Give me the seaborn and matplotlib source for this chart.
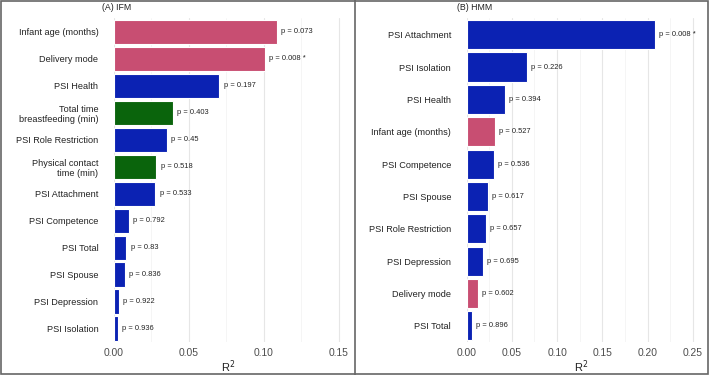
import matplotlib
matplotlib.use("Agg")
import matplotlib.pyplot as plt
import seaborn as sns
import pandas as pd
from matplotlib.patches import Rectangle
from matplotlib.lines import Line2D
from matplotlib.ticker import MultipleLocator

# =========================
# DATA
# =========================
ifm_labels = ["Infant age (months)", "Delivery mode", "PSI Health",
              "Total time\nbreastfeeding (min)", "PSI Role Restriction",
              "Physical contact\ntime (min)", "PSI Attachment", "PSI Competence",
              "PSI Total", "PSI Spouse", "PSI Depression", "PSI Isolation"]
ifm_r2 = [0.109, 0.101, 0.0705, 0.0395, 0.0355, 0.0285,
          0.0278, 0.0102, 0.0085, 0.0075, 0.0033, 0.0027]
ifm_p = ["p = 0.073", "p = 0.008 *", "p = 0.197", "p = 0.403", "p = 0.45",
         "p = 0.518", "p = 0.533", "p = 0.792", "p = 0.83", "p = 0.836",
         "p = 0.922", "p = 0.936"]
ifm_group = ["infant", "infant", "psi", "feeding", "psi", "feeding",
             "psi", "psi", "psi", "psi", "psi", "psi"]

hmm_labels = ["PSI Attachment", "PSI Isolation", "PSI Health", "Infant age (months)",
              "PSI Competence", "PSI Spouse", "PSI Role Restriction",
              "PSI Depression", "Delivery mode", "PSI Total"]
hmm_r2 = [0.208, 0.067, 0.0428, 0.031, 0.030, 0.0234, 0.0212, 0.0179, 0.0127, 0.0064]
hmm_p = ["p = 0.008 *", "p = 0.226", "p = 0.394", "p = 0.527", "p = 0.536",
         "p = 0.617", "p = 0.657", "p = 0.695", "p = 0.602", "p = 0.896"]
hmm_group = ["psi", "psi", "psi", "infant", "psi", "psi", "psi", "psi", "infant", "psi"]

PALETTE = {"infant": "#C84E72", "psi": "#0B22B3", "feeding": "#0A640C"}

# =========================
# PLOT
# =========================
sns.set_style("white")
plt.rcParams['font.family'] = ['Liberation Sans', 'DejaVu Sans']

fig = plt.figure(figsize=(7.09, 3.75), dpi=100)

panels = [
    ("(A) IFM", ifm_labels, ifm_r2, ifm_p, ifm_group, 0.152,
     [113.7 / 709, 0.088, 228 / 709, 0.8627], 101.7 / 709),
    ("(B) HMM", hmm_labels, hmm_r2, hmm_p, hmm_group, 0.252,
     [466.5 / 709, 0.088, 228.3 / 709, 0.8627], 456.7 / 709),
]

for title, labels, r2, pv, grp, xmax, pos, tx in panels:
    ax = fig.add_axes(pos)
    df = pd.DataFrame({"label": labels, "r2": r2, "group": grp})
    sns.barplot(data=df, x="r2", y="label", hue="group", palette=PALETTE,
                order=labels, dodge=False, legend=False, width=0.9, saturation=1,
                orient="h", edgecolor="white", linewidth=0.8, ax=ax, zorder=2)
    for i, (v, t) in enumerate(zip(r2, pv)):
        ax.annotate(t, (v, i), xytext=(3, 0), textcoords="offset points",
                    va="center", ha="left", fontsize=5.4, color="#222222")
    ax.set_xlim(0, xmax)
    ax.set_ylim(len(labels) - 0.5, -0.5)
    ax.xaxis.set_minor_locator(MultipleLocator(0.025))
    nt = int(round(xmax // 0.05)) + 1
    ax.set_xticks([k * 0.05 for k in range(nt)])
    ax.set_xticklabels([f"{k * 0.05:.2f}" for k in range(nt)])
    ax.grid(axis="x", which="major", color="#e6e6e6", linewidth=0.8, zorder=0)
    ax.grid(axis="x", which="minor", color="#f2f2f2", linewidth=0.5, zorder=0)
    ax.grid(axis="y", visible=False)
    ax.set_axisbelow(True)
    sns.despine(ax=ax, left=True, bottom=True)
    ax.tick_params(axis="x", which="both", length=0, pad=4.5, labelsize=7.4,
                   labelcolor="#4d4d4d")
    ax.tick_params(axis="y", length=0, pad=11, labelsize=6.6, labelcolor="#222222")
    ax.set_ylabel("")
    ax.set_xlabel("R$^2$", fontsize=8, labelpad=0, color="#222222")
    fig.text(tx, 1 - 7.3 / 375, title, fontsize=6.3, va="center", ha="left",
             color="#222222")

# panel frames
fig.add_artist(Rectangle((0.001, 0.002), 0.997, 0.996, transform=fig.transFigure,
                         fill=False, edgecolor="#666666", linewidth=1.2))
fig.add_artist(Line2D([354.5 / 709, 354.5 / 709], [0, 1], transform=fig.transFigure,
                      color="#666666", linewidth=1.2))

fig.savefig("out.png", dpi=100)
